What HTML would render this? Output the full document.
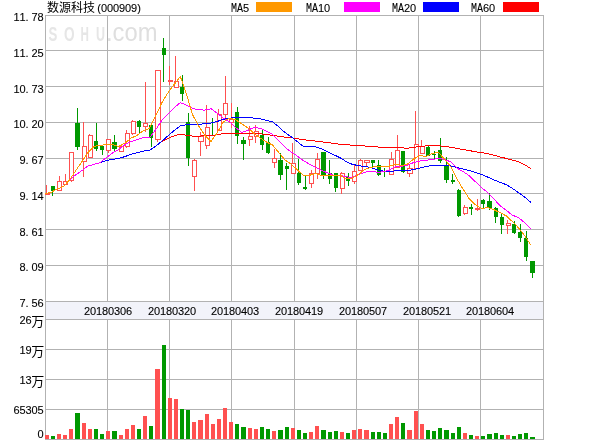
<!DOCTYPE html>
<html><head><meta charset="utf-8"><title>chart</title><style>html,body{margin:0;padding:0;background:#fff;overflow:hidden}svg{display:block;will-change:transform}</style></head><body>
<svg width="600" height="440" viewBox="0 0 600 440">
<rect x="0" y="0" width="600" height="440" fill="#ffffff"/>
<rect x="45" y="301" width="499" height="19" fill="#f2f3fa"/>
<g fill="#b2b2b2" shape-rendering="crispEdges">
<rect x="45" y="15" width="499" height="1"/>
<rect x="45" y="50" width="499" height="1"/>
<rect x="45" y="86" width="499" height="1"/>
<rect x="45" y="122" width="499" height="1"/>
<rect x="45" y="158" width="499" height="1"/>
<rect x="45" y="193" width="499" height="1"/>
<rect x="45" y="229" width="499" height="1"/>
<rect x="45" y="265" width="499" height="1"/>
<rect x="45" y="301" width="499" height="1"/>
<rect x="45" y="319" width="499" height="1"/>
<rect x="45" y="349" width="499" height="1"/>
<rect x="45" y="379" width="499" height="1"/>
<rect x="45" y="409" width="499" height="1"/>
<rect x="45" y="439" width="499" height="1"/>
<rect x="45" y="15" width="1" height="287"/>
<rect x="45" y="319" width="1" height="121"/>
<rect x="107" y="15" width="1" height="287"/>
<rect x="107" y="319" width="1" height="121"/>
<rect x="169" y="15" width="1" height="287"/>
<rect x="169" y="319" width="1" height="121"/>
<rect x="231" y="15" width="1" height="287"/>
<rect x="231" y="319" width="1" height="121"/>
<rect x="294" y="15" width="1" height="287"/>
<rect x="294" y="319" width="1" height="121"/>
<rect x="356" y="15" width="1" height="287"/>
<rect x="356" y="319" width="1" height="121"/>
<rect x="418" y="15" width="1" height="287"/>
<rect x="418" y="319" width="1" height="121"/>
<rect x="480" y="15" width="1" height="287"/>
<rect x="480" y="319" width="1" height="121"/>
<rect x="543" y="15" width="1" height="287"/>
<rect x="543" y="319" width="1" height="121"/>
<rect x="45" y="301" width="1" height="19"/><rect x="543" y="301" width="1" height="19"/>
</g>
<g font-family="'Liberation Sans', sans-serif">
<text x="48.6" y="41.4" font-size="21" font-weight="bold" fill="#e6e6e6" textLength="8.8" lengthAdjust="spacingAndGlyphs">S</text>
<text x="64" y="41.4" font-size="21" font-weight="bold" fill="#e6e6e6" textLength="10.6" lengthAdjust="spacingAndGlyphs">O</text>
<text x="80.6" y="41.4" font-size="21" font-weight="bold" fill="#e6e6e6" textLength="8.4" lengthAdjust="spacingAndGlyphs">H</text>
<text x="96" y="41.4" font-size="21" font-weight="bold" fill="#e6e6e6" textLength="9" lengthAdjust="spacingAndGlyphs">U</text>
<text x="106" y="41.4" font-size="26" fill="#dfdfdf" textLength="51.5" lengthAdjust="spacingAndGlyphs">.com</text>
</g>
<g shape-rendering="crispEdges">
<rect x="45" y="435" width="4" height="4" fill="#ff5050"/>
<rect x="51" y="436" width="4" height="3" fill="#009800"/>
<rect x="57" y="434" width="4" height="5" fill="#ff5050"/>
<rect x="63" y="435" width="4" height="4" fill="#ff5050"/>
<rect x="69" y="429" width="4" height="10" fill="#ff5050"/>
<rect x="75" y="413" width="5" height="26" fill="#009800"/>
<rect x="82" y="423" width="4" height="16" fill="#ff5050"/>
<rect x="88" y="429" width="4" height="10" fill="#ff5050"/>
<rect x="94" y="429" width="4" height="10" fill="#009800"/>
<rect x="100" y="434" width="4" height="5" fill="#009800"/>
<rect x="106" y="431" width="4" height="8" fill="#ff5050"/>
<rect x="112" y="431" width="5" height="8" fill="#009800"/>
<rect x="119" y="435" width="4" height="4" fill="#ff5050"/>
<rect x="125" y="429" width="4" height="10" fill="#ff5050"/>
<rect x="131" y="425" width="4" height="14" fill="#ff5050"/>
<rect x="137" y="429" width="4" height="10" fill="#009800"/>
<rect x="143" y="416" width="4" height="23" fill="#ff5050"/>
<rect x="149" y="426" width="4" height="13" fill="#009800"/>
<rect x="155" y="369" width="5" height="70" fill="#ff5050"/>
<rect x="162" y="345" width="4" height="94" fill="#009800"/>
<rect x="168" y="398" width="4" height="41" fill="#ff5050"/>
<rect x="174" y="399" width="4" height="40" fill="#ff5050"/>
<rect x="180" y="409" width="4" height="30" fill="#009800"/>
<rect x="186" y="410" width="4" height="29" fill="#009800"/>
<rect x="192" y="422" width="4" height="17" fill="#ff5050"/>
<rect x="198" y="420" width="5" height="19" fill="#ff5050"/>
<rect x="205" y="414" width="4" height="25" fill="#ff5050"/>
<rect x="211" y="424" width="4" height="15" fill="#ff5050"/>
<rect x="217" y="419" width="4" height="20" fill="#ff5050"/>
<rect x="223" y="408" width="4" height="31" fill="#ff5050"/>
<rect x="229" y="422" width="4" height="17" fill="#ff5050"/>
<rect x="235" y="424" width="4" height="15" fill="#009800"/>
<rect x="241" y="427" width="5" height="12" fill="#009800"/>
<rect x="248" y="428" width="4" height="11" fill="#ff5050"/>
<rect x="254" y="429" width="4" height="10" fill="#ff5050"/>
<rect x="260" y="427" width="4" height="12" fill="#009800"/>
<rect x="266" y="429" width="4" height="10" fill="#009800"/>
<rect x="272" y="431" width="4" height="8" fill="#ff5050"/>
<rect x="278" y="430" width="5" height="9" fill="#009800"/>
<rect x="285" y="427" width="4" height="12" fill="#009800"/>
<rect x="291" y="428" width="4" height="11" fill="#ff5050"/>
<rect x="297" y="430" width="4" height="9" fill="#009800"/>
<rect x="303" y="433" width="4" height="6" fill="#009800"/>
<rect x="309" y="432" width="4" height="7" fill="#ff5050"/>
<rect x="315" y="426" width="4" height="13" fill="#ff5050"/>
<rect x="321" y="430" width="5" height="9" fill="#009800"/>
<rect x="328" y="432" width="4" height="7" fill="#009800"/>
<rect x="334" y="431" width="4" height="8" fill="#009800"/>
<rect x="340" y="432" width="4" height="7" fill="#ff5050"/>
<rect x="346" y="433" width="4" height="6" fill="#009800"/>
<rect x="352" y="430" width="4" height="9" fill="#ff5050"/>
<rect x="358" y="429" width="4" height="10" fill="#ff5050"/>
<rect x="364" y="430" width="5" height="9" fill="#ff5050"/>
<rect x="371" y="432" width="4" height="7" fill="#009800"/>
<rect x="377" y="432" width="4" height="7" fill="#009800"/>
<rect x="383" y="433" width="4" height="6" fill="#009800"/>
<rect x="389" y="424" width="4" height="15" fill="#ff5050"/>
<rect x="395" y="417" width="4" height="22" fill="#ff5050"/>
<rect x="401" y="423" width="4" height="16" fill="#009800"/>
<rect x="407" y="430" width="5" height="9" fill="#ff5050"/>
<rect x="414" y="411" width="4" height="28" fill="#ff5050"/>
<rect x="420" y="424" width="4" height="15" fill="#ff5050"/>
<rect x="426" y="430" width="4" height="9" fill="#009800"/>
<rect x="432" y="431" width="4" height="8" fill="#009800"/>
<rect x="438" y="428" width="4" height="11" fill="#009800"/>
<rect x="444" y="430" width="5" height="9" fill="#009800"/>
<rect x="451" y="433" width="4" height="6" fill="#009800"/>
<rect x="457" y="427" width="4" height="12" fill="#009800"/>
<rect x="463" y="433" width="4" height="6" fill="#ff5050"/>
<rect x="469" y="435" width="4" height="4" fill="#009800"/>
<rect x="475" y="436" width="4" height="3" fill="#ff5050"/>
<rect x="481" y="436" width="4" height="3" fill="#009800"/>
<rect x="487" y="434" width="5" height="5" fill="#009800"/>
<rect x="494" y="433" width="4" height="6" fill="#009800"/>
<rect x="500" y="435" width="4" height="4" fill="#009800"/>
<rect x="506" y="435" width="4" height="4" fill="#ff5050"/>
<rect x="512" y="436" width="4" height="3" fill="#009800"/>
<rect x="518" y="434" width="4" height="5" fill="#009800"/>
<rect x="524" y="433" width="4" height="6" fill="#009800"/>
<rect x="530" y="437" width="5" height="2" fill="#009800"/>
</g>
<g shape-rendering="crispEdges">
<rect x="46" y="185" width="1" height="10" fill="#ff5050"/>
<rect x="45" y="193" width="5" height="2" fill="#ff5050"/>
<rect x="52" y="186" width="1" height="10" fill="#009800"/>
<rect x="51" y="186" width="4" height="5" fill="#009800"/>
<rect x="59" y="176" width="1" height="15" fill="#ff5050"/>
<rect x="57" y="181" width="5" height="10" fill="#ff5050"/>
<rect x="58" y="182" width="3" height="8" fill="#ffffff"/>
<rect x="65" y="174" width="1" height="11" fill="#ff5050"/>
<rect x="63" y="181" width="5" height="4" fill="#ff5050"/>
<rect x="64" y="182" width="3" height="2" fill="#ffffff"/>
<rect x="71" y="152" width="1" height="30" fill="#ff5050"/>
<rect x="69" y="152" width="5" height="29" fill="#ff5050"/>
<rect x="70" y="153" width="3" height="27" fill="#ffffff"/>
<rect x="77" y="108" width="1" height="42" fill="#009800"/>
<rect x="75" y="123" width="5" height="24" fill="#009800"/>
<rect x="83" y="122" width="1" height="55" fill="#ff5050"/>
<rect x="82" y="146" width="5" height="16" fill="#ff5050"/>
<rect x="83" y="147" width="3" height="14" fill="#ffffff"/>
<rect x="89" y="134" width="1" height="24" fill="#ff5050"/>
<rect x="88" y="135" width="5" height="23" fill="#ff5050"/>
<rect x="89" y="136" width="3" height="21" fill="#ffffff"/>
<rect x="96" y="123" width="1" height="28" fill="#009800"/>
<rect x="94" y="141" width="4" height="8" fill="#009800"/>
<rect x="102" y="146" width="1" height="9" fill="#009800"/>
<rect x="100" y="146" width="4" height="4" fill="#009800"/>
<rect x="108" y="139" width="1" height="14" fill="#ff5050"/>
<rect x="106" y="139" width="5" height="12" fill="#ff5050"/>
<rect x="107" y="140" width="3" height="10" fill="#ffffff"/>
<rect x="114" y="135" width="1" height="17" fill="#009800"/>
<rect x="112" y="142" width="5" height="7" fill="#009800"/>
<rect x="120" y="146" width="1" height="6" fill="#ff5050"/>
<rect x="119" y="146" width="5" height="6" fill="#ff5050"/>
<rect x="120" y="147" width="3" height="4" fill="#ffffff"/>
<rect x="126" y="130" width="1" height="18" fill="#ff5050"/>
<rect x="125" y="133" width="5" height="14" fill="#ff5050"/>
<rect x="126" y="134" width="3" height="12" fill="#ffffff"/>
<rect x="132" y="120" width="1" height="15" fill="#ff5050"/>
<rect x="131" y="121" width="5" height="13" fill="#ff5050"/>
<rect x="132" y="122" width="3" height="11" fill="#ffffff"/>
<rect x="139" y="120" width="1" height="13" fill="#009800"/>
<rect x="137" y="121" width="4" height="6" fill="#009800"/>
<rect x="145" y="82" width="1" height="50" fill="#ff5050"/>
<rect x="143" y="123" width="5" height="4" fill="#ff5050"/>
<rect x="144" y="124" width="3" height="2" fill="#ffffff"/>
<rect x="151" y="125" width="1" height="22" fill="#009800"/>
<rect x="149" y="125" width="4" height="13" fill="#009800"/>
<rect x="157" y="70" width="1" height="72" fill="#ff5050"/>
<rect x="155" y="70" width="6" height="70" fill="#ff5050"/>
<rect x="156" y="71" width="4" height="68" fill="#ffffff"/>
<rect x="163" y="38" width="1" height="44" fill="#009800"/>
<rect x="162" y="48" width="4" height="7" fill="#009800"/>
<rect x="169" y="66" width="1" height="19" fill="#ff5050"/>
<rect x="168" y="80" width="5" height="2" fill="#ff5050"/>
<rect x="175" y="56" width="1" height="32" fill="#ff5050"/>
<rect x="174" y="81" width="5" height="7" fill="#ff5050"/>
<rect x="175" y="82" width="3" height="5" fill="#ffffff"/>
<rect x="182" y="75" width="1" height="26" fill="#009800"/>
<rect x="180" y="87" width="4" height="7" fill="#009800"/>
<rect x="188" y="113" width="1" height="53" fill="#009800"/>
<rect x="186" y="122" width="4" height="36" fill="#009800"/>
<rect x="194" y="159" width="1" height="32" fill="#ff5050"/>
<rect x="192" y="160" width="5" height="17" fill="#ff5050"/>
<rect x="193" y="161" width="3" height="15" fill="#ffffff"/>
<rect x="200" y="132" width="1" height="24" fill="#ff5050"/>
<rect x="198" y="136" width="6" height="6" fill="#ff5050"/>
<rect x="199" y="137" width="4" height="4" fill="#ffffff"/>
<rect x="206" y="105" width="1" height="44" fill="#ff5050"/>
<rect x="205" y="127" width="5" height="19" fill="#ff5050"/>
<rect x="206" y="128" width="3" height="17" fill="#ffffff"/>
<rect x="212" y="118" width="1" height="17" fill="#009800"/>
<rect x="218" y="109" width="1" height="22" fill="#ff5050"/>
<rect x="217" y="114" width="5" height="17" fill="#ff5050"/>
<rect x="218" y="115" width="3" height="15" fill="#ffffff"/>
<rect x="225" y="76" width="1" height="42" fill="#ff5050"/>
<rect x="223" y="103" width="5" height="12" fill="#ff5050"/>
<rect x="224" y="104" width="3" height="10" fill="#ffffff"/>
<rect x="231" y="103" width="1" height="25" fill="#ff5050"/>
<rect x="229" y="119" width="5" height="4" fill="#ff5050"/>
<rect x="230" y="120" width="3" height="2" fill="#ffffff"/>
<rect x="237" y="107" width="1" height="37" fill="#009800"/>
<rect x="235" y="112" width="4" height="24" fill="#009800"/>
<rect x="243" y="137" width="1" height="23" fill="#009800"/>
<rect x="241" y="140" width="5" height="4" fill="#009800"/>
<rect x="249" y="126" width="1" height="20" fill="#ff5050"/>
<rect x="248" y="136" width="5" height="4" fill="#ff5050"/>
<rect x="249" y="137" width="3" height="2" fill="#ffffff"/>
<rect x="255" y="125" width="1" height="18" fill="#ff5050"/>
<rect x="254" y="131" width="5" height="6" fill="#ff5050"/>
<rect x="255" y="132" width="3" height="4" fill="#ffffff"/>
<rect x="262" y="130" width="1" height="20" fill="#009800"/>
<rect x="260" y="135" width="4" height="10" fill="#009800"/>
<rect x="268" y="137" width="1" height="17" fill="#009800"/>
<rect x="266" y="142" width="4" height="11" fill="#009800"/>
<rect x="274" y="149" width="1" height="19" fill="#ff5050"/>
<rect x="272" y="158" width="5" height="5" fill="#ff5050"/>
<rect x="273" y="159" width="3" height="3" fill="#ffffff"/>
<rect x="280" y="153" width="1" height="27" fill="#009800"/>
<rect x="278" y="160" width="5" height="15" fill="#009800"/>
<rect x="286" y="163" width="1" height="27" fill="#009800"/>
<rect x="285" y="166" width="4" height="3" fill="#009800"/>
<rect x="292" y="143" width="1" height="31" fill="#ff5050"/>
<rect x="291" y="163" width="5" height="11" fill="#ff5050"/>
<rect x="292" y="164" width="3" height="9" fill="#ffffff"/>
<rect x="298" y="159" width="1" height="26" fill="#009800"/>
<rect x="297" y="173" width="4" height="10" fill="#009800"/>
<rect x="305" y="176" width="1" height="14" fill="#009800"/>
<rect x="303" y="187" width="4" height="2" fill="#009800"/>
<rect x="311" y="170" width="1" height="18" fill="#ff5050"/>
<rect x="309" y="173" width="5" height="11" fill="#ff5050"/>
<rect x="310" y="174" width="3" height="9" fill="#ffffff"/>
<rect x="317" y="153" width="1" height="26" fill="#ff5050"/>
<rect x="315" y="159" width="5" height="15" fill="#ff5050"/>
<rect x="316" y="160" width="3" height="13" fill="#ffffff"/>
<rect x="323" y="152" width="1" height="27" fill="#009800"/>
<rect x="321" y="152" width="5" height="24" fill="#009800"/>
<rect x="329" y="160" width="1" height="24" fill="#009800"/>
<rect x="328" y="173" width="4" height="6" fill="#009800"/>
<rect x="335" y="173" width="1" height="19" fill="#009800"/>
<rect x="334" y="173" width="4" height="15" fill="#009800"/>
<rect x="341" y="172" width="1" height="22" fill="#ff5050"/>
<rect x="340" y="173" width="5" height="16" fill="#ff5050"/>
<rect x="341" y="174" width="3" height="14" fill="#ffffff"/>
<rect x="348" y="173" width="1" height="13" fill="#009800"/>
<rect x="346" y="177" width="4" height="4" fill="#009800"/>
<rect x="354" y="165" width="1" height="19" fill="#ff5050"/>
<rect x="352" y="171" width="5" height="11" fill="#ff5050"/>
<rect x="353" y="172" width="3" height="9" fill="#ffffff"/>
<rect x="360" y="159" width="1" height="12" fill="#ff5050"/>
<rect x="358" y="160" width="5" height="11" fill="#ff5050"/>
<rect x="359" y="161" width="3" height="9" fill="#ffffff"/>
<rect x="366" y="160" width="1" height="7" fill="#ff5050"/>
<rect x="364" y="160" width="6" height="3" fill="#ff5050"/>
<rect x="365" y="161" width="4" height="1" fill="#ffffff"/>
<rect x="372" y="160" width="1" height="7" fill="#009800"/>
<rect x="371" y="160" width="4" height="3" fill="#009800"/>
<rect x="378" y="160" width="1" height="16" fill="#009800"/>
<rect x="377" y="165" width="4" height="10" fill="#009800"/>
<rect x="384" y="168" width="1" height="9" fill="#009800"/>
<rect x="391" y="152" width="1" height="23" fill="#ff5050"/>
<rect x="389" y="159" width="5" height="16" fill="#ff5050"/>
<rect x="390" y="160" width="3" height="14" fill="#ffffff"/>
<rect x="397" y="135" width="1" height="33" fill="#ff5050"/>
<rect x="395" y="150" width="5" height="18" fill="#ff5050"/>
<rect x="396" y="151" width="3" height="16" fill="#ffffff"/>
<rect x="403" y="151" width="1" height="22" fill="#009800"/>
<rect x="401" y="151" width="4" height="21" fill="#009800"/>
<rect x="409" y="164" width="1" height="13" fill="#ff5050"/>
<rect x="407" y="168" width="6" height="6" fill="#ff5050"/>
<rect x="408" y="169" width="4" height="4" fill="#ffffff"/>
<rect x="415" y="111" width="1" height="58" fill="#ff5050"/>
<rect x="414" y="144" width="5" height="25" fill="#ff5050"/>
<rect x="415" y="145" width="3" height="23" fill="#ffffff"/>
<rect x="421" y="140" width="1" height="14" fill="#ff5050"/>
<rect x="420" y="146" width="5" height="8" fill="#ff5050"/>
<rect x="421" y="147" width="3" height="6" fill="#ffffff"/>
<rect x="428" y="145" width="1" height="11" fill="#009800"/>
<rect x="426" y="147" width="4" height="9" fill="#009800"/>
<rect x="434" y="151" width="1" height="8" fill="#009800"/>
<rect x="432" y="154" width="4" height="1" fill="#009800"/>
<rect x="440" y="138" width="1" height="25" fill="#009800"/>
<rect x="438" y="150" width="4" height="11" fill="#009800"/>
<rect x="446" y="157" width="1" height="26" fill="#009800"/>
<rect x="444" y="165" width="5" height="15" fill="#009800"/>
<rect x="452" y="174" width="1" height="10" fill="#009800"/>
<rect x="451" y="180" width="4" height="2" fill="#009800"/>
<rect x="458" y="189" width="1" height="28" fill="#009800"/>
<rect x="457" y="190" width="4" height="26" fill="#009800"/>
<rect x="464" y="205" width="1" height="10" fill="#ff5050"/>
<rect x="463" y="207" width="5" height="7" fill="#ff5050"/>
<rect x="464" y="208" width="3" height="5" fill="#ffffff"/>
<rect x="471" y="204" width="1" height="11" fill="#009800"/>
<rect x="469" y="207" width="4" height="2" fill="#009800"/>
<rect x="477" y="199" width="1" height="12" fill="#ff5050"/>
<rect x="475" y="208" width="5" height="2" fill="#ff5050"/>
<rect x="483" y="199" width="1" height="9" fill="#009800"/>
<rect x="481" y="200" width="4" height="4" fill="#009800"/>
<rect x="489" y="193" width="1" height="17" fill="#009800"/>
<rect x="487" y="201" width="5" height="7" fill="#009800"/>
<rect x="495" y="207" width="1" height="16" fill="#009800"/>
<rect x="494" y="208" width="4" height="9" fill="#009800"/>
<rect x="501" y="214" width="1" height="20" fill="#009800"/>
<rect x="500" y="217" width="4" height="8" fill="#009800"/>
<rect x="507" y="220" width="1" height="14" fill="#ff5050"/>
<rect x="506" y="223" width="5" height="3" fill="#ff5050"/>
<rect x="507" y="224" width="3" height="1" fill="#ffffff"/>
<rect x="514" y="221" width="1" height="13" fill="#009800"/>
<rect x="512" y="224" width="4" height="9" fill="#009800"/>
<rect x="520" y="224" width="1" height="18" fill="#009800"/>
<rect x="518" y="232" width="4" height="6" fill="#009800"/>
<rect x="526" y="231" width="1" height="30" fill="#009800"/>
<rect x="524" y="238" width="4" height="19" fill="#009800"/>
<rect x="532" y="261" width="1" height="17" fill="#009800"/>
<rect x="530" y="261" width="5" height="12" fill="#009800"/>
</g>
<polyline points="45.0,193.6 51.1,192.3 57.3,188.9 63.4,186.6 69.6,179.8 75.7,174.9 81.9,170.6 88.0,166.0 94.2,164.3 100.3,162.5 106.5,160.5 112.6,159.3 118.8,158.4 124.9,156.6 131.1,154.4 137.2,152.6 143.4,151.1 149.5,150.4 155.7,146.1 161.8,141.3 168.0,138.5 174.1,135.8 180.3,134.3 186.4,135.3 192.6,136.1 198.7,136.2 204.9,135.7 211.0,135.6 217.1,134.7 223.3,133.7 229.4,133.4 235.6,133.4 241.7,133.6 247.9,133.6 254.0,133.6 260.2,133.8 266.3,134.5 272.5,135.3 278.6,136.3 284.8,137.1 290.9,137.7 297.1,138.7 303.2,139.7 309.4,140.5 315.5,141.1 321.7,141.8 327.8,142.6 334.0,143.5 340.1,144.2 346.3,144.7 352.4,145.2 358.6,145.6 364.7,146.0 370.9,146.4 377.0,146.9 383.1,147.4 389.3,147.6 395.4,147.6 401.6,147.9 407.7,148.2 413.9,147.3 420.0,146.4 426.2,145.9 432.3,145.6 438.5,145.8 444.6,146.4 450.8,147.2 456.9,148.4 463.1,149.5 469.2,150.6 475.4,151.7 481.5,152.6 487.7,153.7 493.8,155.2 500.0,156.9 506.1,158.4 512.3,160.1 518.4,161.7 524.6,164.7 530.7,168.5" fill="none" stroke="#ff0000" stroke-width="1" stroke-linejoin="round" shape-rendering="crispEdges"/>
<polyline points="45.0,193.6 51.1,192.3 57.3,188.9 63.4,186.6 69.6,179.8 75.7,174.9 81.9,170.6 88.0,166.0 94.2,164.3 100.3,162.5 106.5,160.5 112.6,159.3 118.8,158.4 124.9,156.6 131.1,154.4 137.2,152.6 143.4,151.1 149.5,150.4 155.7,146.1 161.8,141.3 168.0,135.8 174.1,130.6 180.3,126.0 186.4,124.6 192.6,124.9 198.7,124.5 204.9,123.6 211.0,123.1 217.1,121.5 223.3,119.3 229.4,118.2 235.6,117.6 241.7,117.6 247.9,117.7 254.0,118.1 260.2,118.8 266.3,120.3 272.5,121.8 278.6,126.7 284.8,132.4 290.9,136.6 297.1,141.4 303.2,146.4 309.4,146.9 315.5,146.8 321.7,149.0 327.8,151.8 334.0,154.9 340.1,157.7 346.3,161.6 352.4,164.4 358.6,165.6 364.7,166.5 370.9,167.6 377.0,169.7 383.1,171.1 389.3,171.3 395.4,170.9 401.6,170.6 407.7,170.4 413.9,169.6 420.0,168.0 426.2,166.5 432.3,165.5 438.5,165.4 444.6,165.6 450.8,165.9 456.9,167.4 463.1,169.1 469.2,170.5 475.4,172.4 481.5,174.5 487.7,177.1 493.8,179.8 500.0,182.3 506.1,184.6 512.3,188.3 518.4,192.6 524.6,197.0 530.7,202.3" fill="none" stroke="#0000ff" stroke-width="1" stroke-linejoin="round" shape-rendering="crispEdges"/>
<polyline points="45.0,193.6 51.1,192.3 57.3,188.9 63.4,186.6 69.6,179.8 75.7,174.9 81.9,170.6 88.0,166.0 94.2,164.3 100.3,162.5 106.5,157.4 112.6,153.0 118.8,149.4 124.9,144.6 131.1,141.5 137.2,139.5 143.4,137.7 149.5,137.6 155.7,129.8 161.8,120.2 168.0,114.2 174.1,107.8 180.3,102.6 186.4,105.0 192.6,108.5 198.7,109.7 204.9,110.1 211.0,108.7 217.1,113.1 223.3,118.0 229.4,121.7 235.6,127.4 241.7,132.5 247.9,130.3 254.0,127.4 260.2,128.4 266.3,131.0 272.5,134.3 278.6,140.7 284.8,147.1 290.9,151.7 297.1,155.9 303.2,160.5 309.4,164.2 315.5,167.2 321.7,170.3 327.8,173.0 334.0,175.3 340.1,175.4 346.3,176.9 352.4,177.3 358.6,174.7 364.7,172.2 370.9,171.2 377.0,172.2 383.1,171.9 389.3,170.1 395.4,166.7 401.6,166.4 407.7,165.1 413.9,162.4 420.0,161.0 426.2,160.3 432.3,159.4 438.5,158.5 444.6,159.3 450.8,162.0 456.9,168.0 463.1,171.6 469.2,175.6 475.4,181.7 481.5,187.5 487.7,192.6 493.8,198.9 500.0,205.5 506.1,210.2 512.3,215.1 518.4,217.6 524.6,222.6 530.7,228.6" fill="none" stroke="#ff00ff" stroke-width="1" stroke-linejoin="round" shape-rendering="crispEdges"/>
<polyline points="45.0,193.6 51.1,192.3 57.3,188.9 63.4,186.6 69.6,179.8 75.7,170.7 81.9,161.7 88.0,152.6 94.2,146.3 100.3,145.5 106.5,144.3 112.6,144.7 118.8,146.4 124.9,143.2 131.1,138.1 137.2,135.3 143.4,130.6 149.5,128.3 155.7,116.0 161.8,102.8 168.0,92.7 174.1,84.5 180.3,76.5 186.4,93.8 192.6,114.8 198.7,126.0 204.9,135.3 211.0,141.5 217.1,132.8 223.3,121.9 229.4,118.1 235.6,119.9 241.7,123.7 247.9,128.0 254.0,133.3 260.2,138.0 266.3,141.9 272.5,145.0 278.6,152.3 284.8,159.8 290.9,163.9 297.1,169.6 303.2,175.3 309.4,175.3 315.5,173.6 321.7,175.4 327.8,175.1 334.0,175.1 340.1,175.1 346.3,178.9 352.4,178.0 358.6,174.4 364.7,169.6 370.9,167.3 377.0,166.3 383.1,166.4 389.3,166.1 395.4,164.1 401.6,165.5 407.7,164.0 413.9,158.8 420.0,155.6 426.2,156.6 432.3,153.5 438.5,152.4 444.6,159.3 450.8,166.7 456.9,178.8 463.1,189.2 469.2,198.7 475.4,204.7 481.5,208.5 487.7,207.7 493.8,209.7 500.0,212.6 506.1,215.8 512.3,221.5 518.4,227.7 524.6,235.6 530.7,244.9" fill="none" stroke="#ff9900" stroke-width="1" stroke-linejoin="round" shape-rendering="crispEdges"/>
<g shape-rendering="crispEdges">
<rect x="256" y="2" width="36" height="10" fill="#ff9900"/>
<rect x="344" y="2" width="36" height="10" fill="#ff00ff"/>
<rect x="423" y="2" width="36" height="10" fill="#0000ff"/>
<rect x="503" y="2" width="36" height="10" fill="#ff0000"/>
</g>
<g fill="#000000" stroke="#000000" stroke-width="0.1" font-family="'Liberation Sans', sans-serif" font-size="11">
<text x="16.5" y="21" text-anchor="middle">1</text>
<text x="22.5" y="21" text-anchor="middle">1</text>
<text x="27.0" y="21" text-anchor="middle">.</text>
<text x="34.5" y="21" text-anchor="middle">7</text>
<text x="40.5" y="21" text-anchor="middle">8</text>
<text x="16.5" y="57" text-anchor="middle">1</text>
<text x="22.5" y="57" text-anchor="middle">1</text>
<text x="27.0" y="57" text-anchor="middle">.</text>
<text x="34.5" y="57" text-anchor="middle">2</text>
<text x="40.5" y="57" text-anchor="middle">5</text>
<text x="16.5" y="93" text-anchor="middle">1</text>
<text x="22.5" y="93" text-anchor="middle">0</text>
<text x="27.0" y="93" text-anchor="middle">.</text>
<text x="34.5" y="93" text-anchor="middle">7</text>
<text x="40.5" y="93" text-anchor="middle">3</text>
<text x="16.5" y="128" text-anchor="middle">1</text>
<text x="22.5" y="128" text-anchor="middle">0</text>
<text x="27.0" y="128" text-anchor="middle">.</text>
<text x="34.5" y="128" text-anchor="middle">2</text>
<text x="40.5" y="128" text-anchor="middle">0</text>
<text x="22.5" y="164" text-anchor="middle">9</text>
<text x="27.0" y="164" text-anchor="middle">.</text>
<text x="34.5" y="164" text-anchor="middle">6</text>
<text x="40.5" y="164" text-anchor="middle">7</text>
<text x="22.5" y="200" text-anchor="middle">9</text>
<text x="27.0" y="200" text-anchor="middle">.</text>
<text x="34.5" y="200" text-anchor="middle">1</text>
<text x="40.5" y="200" text-anchor="middle">4</text>
<text x="22.5" y="236" text-anchor="middle">8</text>
<text x="27.0" y="236" text-anchor="middle">.</text>
<text x="34.5" y="236" text-anchor="middle">6</text>
<text x="40.5" y="236" text-anchor="middle">1</text>
<text x="22.5" y="271" text-anchor="middle">8</text>
<text x="27.0" y="271" text-anchor="middle">.</text>
<text x="34.5" y="271" text-anchor="middle">0</text>
<text x="40.5" y="271" text-anchor="middle">9</text>
<text x="22.5" y="307" text-anchor="middle">7</text>
<text x="27.0" y="307" text-anchor="middle">.</text>
<text x="34.5" y="307" text-anchor="middle">5</text>
<text x="40.5" y="307" text-anchor="middle">6</text>
<text x="22.5" y="324" text-anchor="middle">2</text>
<text x="28.5" y="324" text-anchor="middle">6</text>
<text x="22.5" y="354" text-anchor="middle">1</text>
<text x="28.5" y="354" text-anchor="middle">9</text>
<text x="22.5" y="384" text-anchor="middle">1</text>
<text x="28.5" y="384" text-anchor="middle">3</text>
<text x="16.5" y="414" text-anchor="middle">6</text>
<text x="22.5" y="414" text-anchor="middle">5</text>
<text x="28.5" y="414" text-anchor="middle">3</text>
<text x="34.5" y="414" text-anchor="middle">0</text>
<text x="40.5" y="414" text-anchor="middle">5</text>
<text x="40.5" y="438" text-anchor="middle">0</text>
<text x="87" y="315" text-anchor="middle">2</text>
<text x="93" y="315" text-anchor="middle">0</text>
<text x="99" y="315" text-anchor="middle">1</text>
<text x="105" y="315" text-anchor="middle">8</text>
<text x="111" y="315" text-anchor="middle">0</text>
<text x="117" y="315" text-anchor="middle">3</text>
<text x="123" y="315" text-anchor="middle">0</text>
<text x="129" y="315" text-anchor="middle">6</text>
<text x="151" y="315" text-anchor="middle">2</text>
<text x="157" y="315" text-anchor="middle">0</text>
<text x="163" y="315" text-anchor="middle">1</text>
<text x="169" y="315" text-anchor="middle">8</text>
<text x="175" y="315" text-anchor="middle">0</text>
<text x="181" y="315" text-anchor="middle">3</text>
<text x="187" y="315" text-anchor="middle">2</text>
<text x="193" y="315" text-anchor="middle">0</text>
<text x="214" y="315" text-anchor="middle">2</text>
<text x="220" y="315" text-anchor="middle">0</text>
<text x="226" y="315" text-anchor="middle">1</text>
<text x="232" y="315" text-anchor="middle">8</text>
<text x="238" y="315" text-anchor="middle">0</text>
<text x="244" y="315" text-anchor="middle">4</text>
<text x="250" y="315" text-anchor="middle">0</text>
<text x="256" y="315" text-anchor="middle">3</text>
<text x="278" y="315" text-anchor="middle">2</text>
<text x="284" y="315" text-anchor="middle">0</text>
<text x="290" y="315" text-anchor="middle">1</text>
<text x="296" y="315" text-anchor="middle">8</text>
<text x="302" y="315" text-anchor="middle">0</text>
<text x="308" y="315" text-anchor="middle">4</text>
<text x="314" y="315" text-anchor="middle">1</text>
<text x="320" y="315" text-anchor="middle">9</text>
<text x="342" y="315" text-anchor="middle">2</text>
<text x="348" y="315" text-anchor="middle">0</text>
<text x="354" y="315" text-anchor="middle">1</text>
<text x="360" y="315" text-anchor="middle">8</text>
<text x="366" y="315" text-anchor="middle">0</text>
<text x="372" y="315" text-anchor="middle">5</text>
<text x="378" y="315" text-anchor="middle">0</text>
<text x="384" y="315" text-anchor="middle">7</text>
<text x="406" y="315" text-anchor="middle">2</text>
<text x="412" y="315" text-anchor="middle">0</text>
<text x="418" y="315" text-anchor="middle">1</text>
<text x="424" y="315" text-anchor="middle">8</text>
<text x="430" y="315" text-anchor="middle">0</text>
<text x="436" y="315" text-anchor="middle">5</text>
<text x="442" y="315" text-anchor="middle">2</text>
<text x="448" y="315" text-anchor="middle">1</text>
<text x="469" y="315" text-anchor="middle">2</text>
<text x="475" y="315" text-anchor="middle">0</text>
<text x="481" y="315" text-anchor="middle">1</text>
<text x="487" y="315" text-anchor="middle">8</text>
<text x="493" y="315" text-anchor="middle">0</text>
<text x="499" y="315" text-anchor="middle">6</text>
<text x="505" y="315" text-anchor="middle">0</text>
<text x="511" y="315" text-anchor="middle">4</text>
<text x="231" y="12" font-family="'Liberation Mono', monospace" font-size="12.3" textLength="6" lengthAdjust="spacingAndGlyphs">M</text>
<text x="237" y="12" font-family="'Liberation Mono', monospace" font-size="12.3" textLength="6" lengthAdjust="spacingAndGlyphs">A</text>
<text x="246" y="12" text-anchor="middle">5</text>
<text x="306" y="12" font-family="'Liberation Mono', monospace" font-size="12.3" textLength="6" lengthAdjust="spacingAndGlyphs">M</text>
<text x="312" y="12" font-family="'Liberation Mono', monospace" font-size="12.3" textLength="6" lengthAdjust="spacingAndGlyphs">A</text>
<text x="321" y="12" text-anchor="middle">1</text>
<text x="327" y="12" text-anchor="middle">0</text>
<text x="392" y="12" font-family="'Liberation Mono', monospace" font-size="12.3" textLength="6" lengthAdjust="spacingAndGlyphs">M</text>
<text x="398" y="12" font-family="'Liberation Mono', monospace" font-size="12.3" textLength="6" lengthAdjust="spacingAndGlyphs">A</text>
<text x="407" y="12" text-anchor="middle">2</text>
<text x="413" y="12" text-anchor="middle">0</text>
<text x="471" y="12" font-family="'Liberation Mono', monospace" font-size="12.3" textLength="6" lengthAdjust="spacingAndGlyphs">M</text>
<text x="477" y="12" font-family="'Liberation Mono', monospace" font-size="12.3" textLength="6" lengthAdjust="spacingAndGlyphs">A</text>
<text x="486" y="12" text-anchor="middle">6</text>
<text x="492" y="12" text-anchor="middle">0</text>
<text x="99" y="12" text-anchor="middle">(</text>
<text x="104" y="12" text-anchor="middle">0</text>
<text x="110" y="12" text-anchor="middle">0</text>
<text x="116" y="12" text-anchor="middle">0</text>
<text x="122" y="12" text-anchor="middle">9</text>
<text x="128" y="12" text-anchor="middle">0</text>
<text x="134" y="12" text-anchor="middle">9</text>
<text x="139" y="12" text-anchor="middle">)</text>
</g>
<g fill="#000000" font-family="'Liberation Sans', 'Noto Sans CJK SC', sans-serif">
<text x="47" y="12.06" font-size="12">数源科技</text>
<text x="31.3" y="325.64" font-size="13">万</text>
<text x="31.3" y="355.64" font-size="13">万</text>
<text x="31.3" y="385.64" font-size="13">万</text>
</g>
</svg>
</body></html>
